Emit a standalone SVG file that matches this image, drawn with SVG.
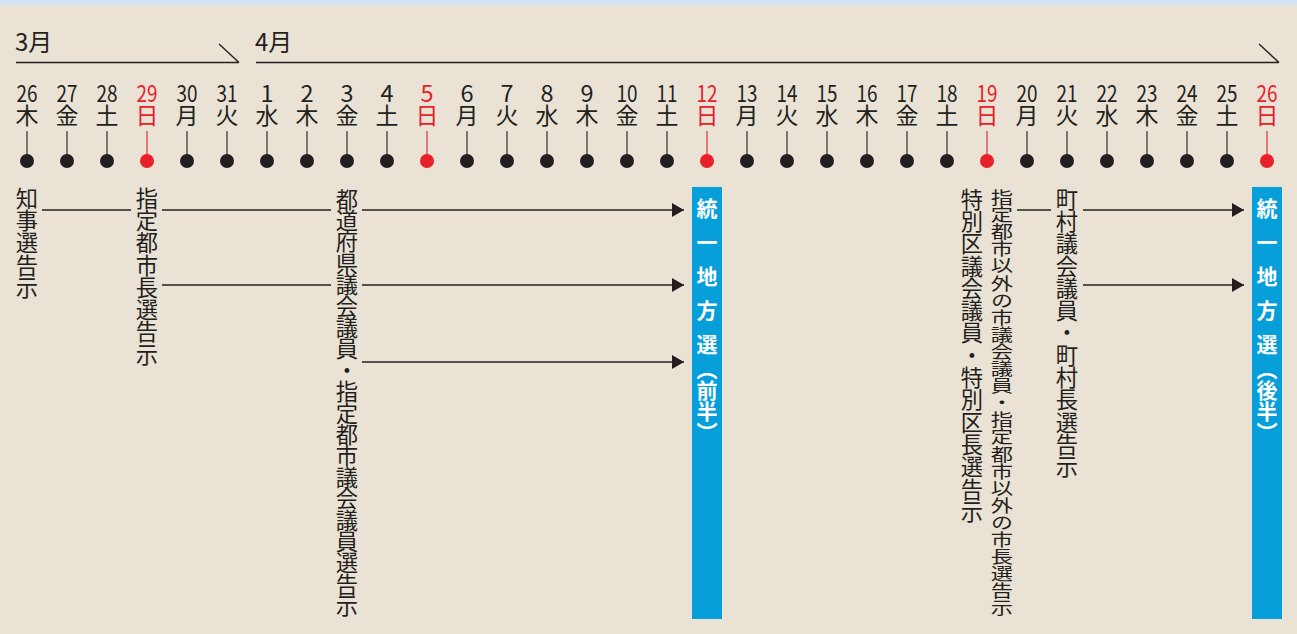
<svg xmlns="http://www.w3.org/2000/svg" width="1297" height="634" viewBox="0 0 1297 634">
<style>
.bg{fill:#EAE3D5}
.ln{stroke:#231F20;stroke-width:1.4;fill:none}
.stem{stroke:#231F20;stroke-width:1.1}
.stem.r{stroke:#E8202A}
.dot{fill:#231F20}
.dot.r{fill:#E8202A}
.d{font-family:"Noto Sans CJK JP","Noto Sans",sans-serif;text-anchor:middle;fill:#231F20}
.n{font-size:23.5px}
.w{font-size:23px}
.r{fill:#E8202A}
.mon{font-family:"Noto Sans CJK JP",sans-serif;font-size:24px;fill:#231F20}
.v{font-family:"Noto Sans CJK JP",sans-serif;font-size:22.3px;fill:#231F20;writing-mode:vertical-rl}
.box{fill:#069FDA}
.bt{font-family:"Noto Sans CJK JP",sans-serif;font-size:21px;font-weight:700;fill:#FFFFFF;writing-mode:vertical-rl}
</style>
<defs>
<marker id="ah" markerWidth="12" markerHeight="14" refX="12" refY="7" orient="auto" markerUnits="userSpaceOnUse">
<path d="M0,0 L12,7 L0,14 Z" fill="#231F20"/>
</marker>
</defs>
<rect class="bg" x="0" y="0" width="1297" height="634"/>
<rect x="0" y="0" width="1297" height="5" fill="#D3E4F2"/>

<g id="months">
<text class="mon" x="15" y="51">3月</text>
<path class="ln" d="M16,62.5 H239 M219,44 L239,62.5"/>
<text class="mon" x="255" y="51">4月</text>
<path class="ln" d="M256,62.5 H1279 M1259,44 L1279,62.5"/>
</g>

<g id="dates">
<text class="d" x="27"><tspan class="n" x="27" y="102" textLength="21" lengthAdjust="spacingAndGlyphs">26</tspan><tspan class="w" x="27" y="124">木</tspan></text>
<text class="d" x="67"><tspan class="n" x="67" y="102" textLength="21" lengthAdjust="spacingAndGlyphs">27</tspan><tspan class="w" x="67" y="124">金</tspan></text>
<text class="d" x="107"><tspan class="n" x="107" y="102" textLength="21" lengthAdjust="spacingAndGlyphs">28</tspan><tspan class="w" x="107" y="124">土</tspan></text>
<text class="d r" x="147"><tspan class="n" x="147" y="102" textLength="21" lengthAdjust="spacingAndGlyphs">29</tspan><tspan class="w" x="147" y="124">日</tspan></text>
<text class="d" x="187"><tspan class="n" x="187" y="102" textLength="21" lengthAdjust="spacingAndGlyphs">30</tspan><tspan class="w" x="187" y="124">月</tspan></text>
<text class="d" x="227"><tspan class="n" x="227" y="102" textLength="21" lengthAdjust="spacingAndGlyphs">31</tspan><tspan class="w" x="227" y="124">火</tspan></text>
<text class="d" x="267"><tspan class="n" x="267" y="102">1</tspan><tspan class="w" x="267" y="124">水</tspan></text>
<text class="d" x="307"><tspan class="n" x="307" y="102">2</tspan><tspan class="w" x="307" y="124">木</tspan></text>
<text class="d" x="347"><tspan class="n" x="347" y="102">3</tspan><tspan class="w" x="347" y="124">金</tspan></text>
<text class="d" x="387"><tspan class="n" x="387" y="102">4</tspan><tspan class="w" x="387" y="124">土</tspan></text>
<text class="d r" x="427"><tspan class="n" x="427" y="102">5</tspan><tspan class="w" x="427" y="124">日</tspan></text>
<text class="d" x="467"><tspan class="n" x="467" y="102">6</tspan><tspan class="w" x="467" y="124">月</tspan></text>
<text class="d" x="507"><tspan class="n" x="507" y="102">7</tspan><tspan class="w" x="507" y="124">火</tspan></text>
<text class="d" x="547"><tspan class="n" x="547" y="102">8</tspan><tspan class="w" x="547" y="124">水</tspan></text>
<text class="d" x="587"><tspan class="n" x="587" y="102">9</tspan><tspan class="w" x="587" y="124">木</tspan></text>
<text class="d" x="627"><tspan class="n" x="627" y="102" textLength="21" lengthAdjust="spacingAndGlyphs">10</tspan><tspan class="w" x="627" y="124">金</tspan></text>
<text class="d" x="667"><tspan class="n" x="667" y="102" textLength="21" lengthAdjust="spacingAndGlyphs">11</tspan><tspan class="w" x="667" y="124">土</tspan></text>
<text class="d r" x="707"><tspan class="n" x="707" y="102" textLength="21" lengthAdjust="spacingAndGlyphs">12</tspan><tspan class="w" x="707" y="124">日</tspan></text>
<text class="d" x="747"><tspan class="n" x="747" y="102" textLength="21" lengthAdjust="spacingAndGlyphs">13</tspan><tspan class="w" x="747" y="124">月</tspan></text>
<text class="d" x="787"><tspan class="n" x="787" y="102" textLength="21" lengthAdjust="spacingAndGlyphs">14</tspan><tspan class="w" x="787" y="124">火</tspan></text>
<text class="d" x="827"><tspan class="n" x="827" y="102" textLength="21" lengthAdjust="spacingAndGlyphs">15</tspan><tspan class="w" x="827" y="124">水</tspan></text>
<text class="d" x="867"><tspan class="n" x="867" y="102" textLength="21" lengthAdjust="spacingAndGlyphs">16</tspan><tspan class="w" x="867" y="124">木</tspan></text>
<text class="d" x="907"><tspan class="n" x="907" y="102" textLength="21" lengthAdjust="spacingAndGlyphs">17</tspan><tspan class="w" x="907" y="124">金</tspan></text>
<text class="d" x="947"><tspan class="n" x="947" y="102" textLength="21" lengthAdjust="spacingAndGlyphs">18</tspan><tspan class="w" x="947" y="124">土</tspan></text>
<text class="d r" x="987"><tspan class="n" x="987" y="102" textLength="21" lengthAdjust="spacingAndGlyphs">19</tspan><tspan class="w" x="987" y="124">日</tspan></text>
<text class="d" x="1027"><tspan class="n" x="1027" y="102" textLength="21" lengthAdjust="spacingAndGlyphs">20</tspan><tspan class="w" x="1027" y="124">月</tspan></text>
<text class="d" x="1067"><tspan class="n" x="1067" y="102" textLength="21" lengthAdjust="spacingAndGlyphs">21</tspan><tspan class="w" x="1067" y="124">火</tspan></text>
<text class="d" x="1107"><tspan class="n" x="1107" y="102" textLength="21" lengthAdjust="spacingAndGlyphs">22</tspan><tspan class="w" x="1107" y="124">水</tspan></text>
<text class="d" x="1147"><tspan class="n" x="1147" y="102" textLength="21" lengthAdjust="spacingAndGlyphs">23</tspan><tspan class="w" x="1147" y="124">木</tspan></text>
<text class="d" x="1187"><tspan class="n" x="1187" y="102" textLength="21" lengthAdjust="spacingAndGlyphs">24</tspan><tspan class="w" x="1187" y="124">金</tspan></text>
<text class="d" x="1227"><tspan class="n" x="1227" y="102" textLength="21" lengthAdjust="spacingAndGlyphs">25</tspan><tspan class="w" x="1227" y="124">土</tspan></text>
<text class="d r" x="1267"><tspan class="n" x="1267" y="102" textLength="21" lengthAdjust="spacingAndGlyphs">26</tspan><tspan class="w" x="1267" y="124">日</tspan></text>
</g>

<g id="ticks">
<path class="stem" d="M27,131V155 M67,131V155 M107,131V155 M187,131V155 M227,131V155 M267,131V155 M307,131V155 M347,131V155 M387,131V155 M467,131V155 M507,131V155 M547,131V155 M587,131V155 M627,131V155 M667,131V155 M747,131V155 M787,131V155 M827,131V155 M867,131V155 M907,131V155 M947,131V155 M1027,131V155 M1067,131V155 M1107,131V155 M1147,131V155 M1187,131V155 M1227,131V155"/>
<path class="stem r" d="M147,131V155 M427,131V155 M707,131V155 M987,131V155 M1267,131V155"/>
<circle class="dot" cx="27" cy="161" r="7"/>
<circle class="dot" cx="67" cy="161" r="7"/>
<circle class="dot" cx="107" cy="161" r="7"/>
<circle class="dot r" cx="147" cy="161" r="7"/>
<circle class="dot" cx="187" cy="161" r="7"/>
<circle class="dot" cx="227" cy="161" r="7"/>
<circle class="dot" cx="267" cy="161" r="7"/>
<circle class="dot" cx="307" cy="161" r="7"/>
<circle class="dot" cx="347" cy="161" r="7"/>
<circle class="dot" cx="387" cy="161" r="7"/>
<circle class="dot r" cx="427" cy="161" r="7"/>
<circle class="dot" cx="467" cy="161" r="7"/>
<circle class="dot" cx="507" cy="161" r="7"/>
<circle class="dot" cx="547" cy="161" r="7"/>
<circle class="dot" cx="587" cy="161" r="7"/>
<circle class="dot" cx="627" cy="161" r="7"/>
<circle class="dot" cx="667" cy="161" r="7"/>
<circle class="dot r" cx="707" cy="161" r="7"/>
<circle class="dot" cx="747" cy="161" r="7"/>
<circle class="dot" cx="787" cy="161" r="7"/>
<circle class="dot" cx="827" cy="161" r="7"/>
<circle class="dot" cx="867" cy="161" r="7"/>
<circle class="dot" cx="907" cy="161" r="7"/>
<circle class="dot" cx="947" cy="161" r="7"/>
<circle class="dot r" cx="987" cy="161" r="7"/>
<circle class="dot" cx="1027" cy="161" r="7"/>
<circle class="dot" cx="1067" cy="161" r="7"/>
<circle class="dot" cx="1107" cy="161" r="7"/>
<circle class="dot" cx="1147" cy="161" r="7"/>
<circle class="dot" cx="1187" cy="161" r="7"/>
<circle class="dot" cx="1227" cy="161" r="7"/>
<circle class="dot r" cx="1267" cy="161" r="7"/>
</g>

<g id="connectors">
<path class="ln" d="M42,210 H131"/>
<path class="ln" d="M162,210 H331"/>
<path class="ln" d="M162,285 H331"/>
<path class="ln" d="M362,210 H684" marker-end="url(#ah)"/>
<path class="ln" d="M362,285 H684" marker-end="url(#ah)"/>
<path class="ln" d="M362,362 H684" marker-end="url(#ah)"/>
<path class="ln" d="M1017,210 H1051"/>
<path class="ln" d="M1083,210 H1244" marker-end="url(#ah)"/>
<path class="ln" d="M1083,285 H1244" marker-end="url(#ah)"/>
</g>

<g id="chiji">
<text class="v" x="27" y="187">知事選告示</text>
</g>
<g id="shitei-shicho">
<text class="v" x="147" y="187">指定都市長選告示</text>
</g>
<g id="todofuken">
<text class="v" x="347" y="188" letter-spacing="-0.9">都道府県議会議員・指定都市議会議員選告示</text>
</g>
<g id="tokubetsuku">
<text class="v" x="972" y="188">特別区議会議員・特別区長選告示</text>
</g>
<g id="shigikai">
<text class="v" transform="translate(1002,189) scale(1,0.767)" x="0" y="0">指定都市以外の市議会議員・指定都市以外の市長選告示</text>
</g>
<g id="chouson">
<text class="v" x="1067" y="188">町村議会議員・町村長選告示</text>
</g>

<g id="zenhan">
<rect class="box" x="692" y="187" width="30" height="432"/>
<text class="bt" x="707" y="198"><tspan letter-spacing="13">統一地方</tspan><tspan letter-spacing="4">選</tspan>（前半）</text>
</g>
<g id="kohan">
<rect class="box" x="1252" y="187" width="30" height="432"/>
<text class="bt" x="1267" y="198"><tspan letter-spacing="13">統一地方</tspan><tspan letter-spacing="4">選</tspan>（後半）</text>
</g>
</svg>
